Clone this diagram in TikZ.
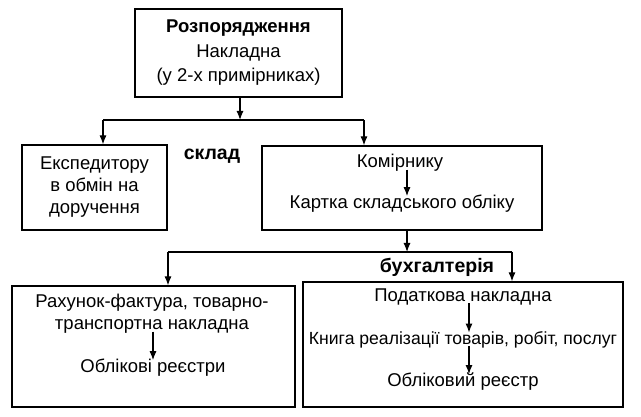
\documentclass[tikz,border=0pt]{standalone}
\usepackage{fontspec}
\setmainfont{Liberation Sans}
\usetikzlibrary{arrows.meta}
\usetikzlibrary{positioning}

\begin{document}
\begin{tikzpicture}[
		->,
		>={Latex[length=9pt,width=7pt]},
		x=1pt,
		y=-1pt,
		line width=1.2pt
	]
		\tikzstyle{frame}=[
			draw,
			rectangle,
			inner sep=0pt,
			align=center
		]
		\tikzstyle{txt}=[
			align=center,
			inner sep=0.5pt,
			font=\fontsize{18.5}{22}\selectfont
		]
		\tikzstyle{dept}=[
			inner sep=1pt,
			font=\fontsize{19.5}{22}\selectfont\bfseries
		]
		\tikzstyle{inarr}=[
			shorten <=-3pt,
			shorten >=-2pt
		]

		\useasboundingbox (0,0) rectangle (641,417);

		% top
		\node[frame, txt, font=\fontsize{18.5}{24.5}\selectfont, minimum width=207, minimum height=88] (rozp) at (238.5,53)
			{\textbf{Розпорядження}\\Накладна\\(у 2-х примірниках)};

		% warehouse
		\node[frame, txt, minimum width=145, minimum height=85] (eksp) at (94.5,187.5)
			{Експедитору\\в обмін на\\доручення};
		\node[frame, minimum width=280, minimum height=84] (komb) at (402,188) {};
		\node[txt] (kom) at (400,163) {Комірнику};
		\node[txt] (kart) at (402,204) {Картка складського обліку};
		\node[dept] (sklad) at (212,156) {склад};

		% accounting
		\node[frame, minimum width=283, minimum height=121] (rahb) at (153.5,346.5) {};
		\node[txt] (rah) at (152,314) {Рахунок-фактура, товарно-\\транспортна накладна};
		\node[txt] (obl1) at (153,368) {Облікові реєстри};
		\node[frame, minimum width=320, minimum height=125] (podb) at (463,344.5) {};
		\node[txt] (pod) at (463,297) {Податкова накладна};
		\node[txt, font=\fontsize{17.6}{22}\selectfont] (knyha) at (463,340) {Книга реалізації товарів, робіт, послуг};
		\node[txt] (obl2) at (463,382) {Обліковий реєстр};
		\node[dept] (buh) at (437,267) {бухгалтерія};

		\coordinate (j1) at (240,120);
		\coordinate (j1l) at (103,120);
		\coordinate (j1r) at (364,120);
		\coordinate (j2) at (407,252);
		\coordinate (j2l) at (168,252);
		\coordinate (j2r) at (512,252);

		\draw (rozp.south -| j1) -- (j1);
		\draw[-] (j1l) -- (j1r);
		\draw (j1l) -- (j1l |- eksp.north);
		\draw (j1r) -- (j1r |- komb.north);

		\draw[inarr] (kom.south -| j2) -- (kart.north -| j2);
		\draw (komb.south -| j2) -- (j2);
		\draw[-] (j2l) -- (j2r);
		\draw (j2l) -- (j2l |- rahb.north);
		\draw (j2r) -- (j2r |- podb.north);

		\draw[inarr] (rah.south -| obl1) -- (obl1);
		\draw[inarr] (pod.south -| 469,0) -- (knyha.north -| 469,0);
		\draw[inarr] (knyha.south -| 469,0) -- (obl2.north -| 469,0);
	\end{tikzpicture}
\end{document}
